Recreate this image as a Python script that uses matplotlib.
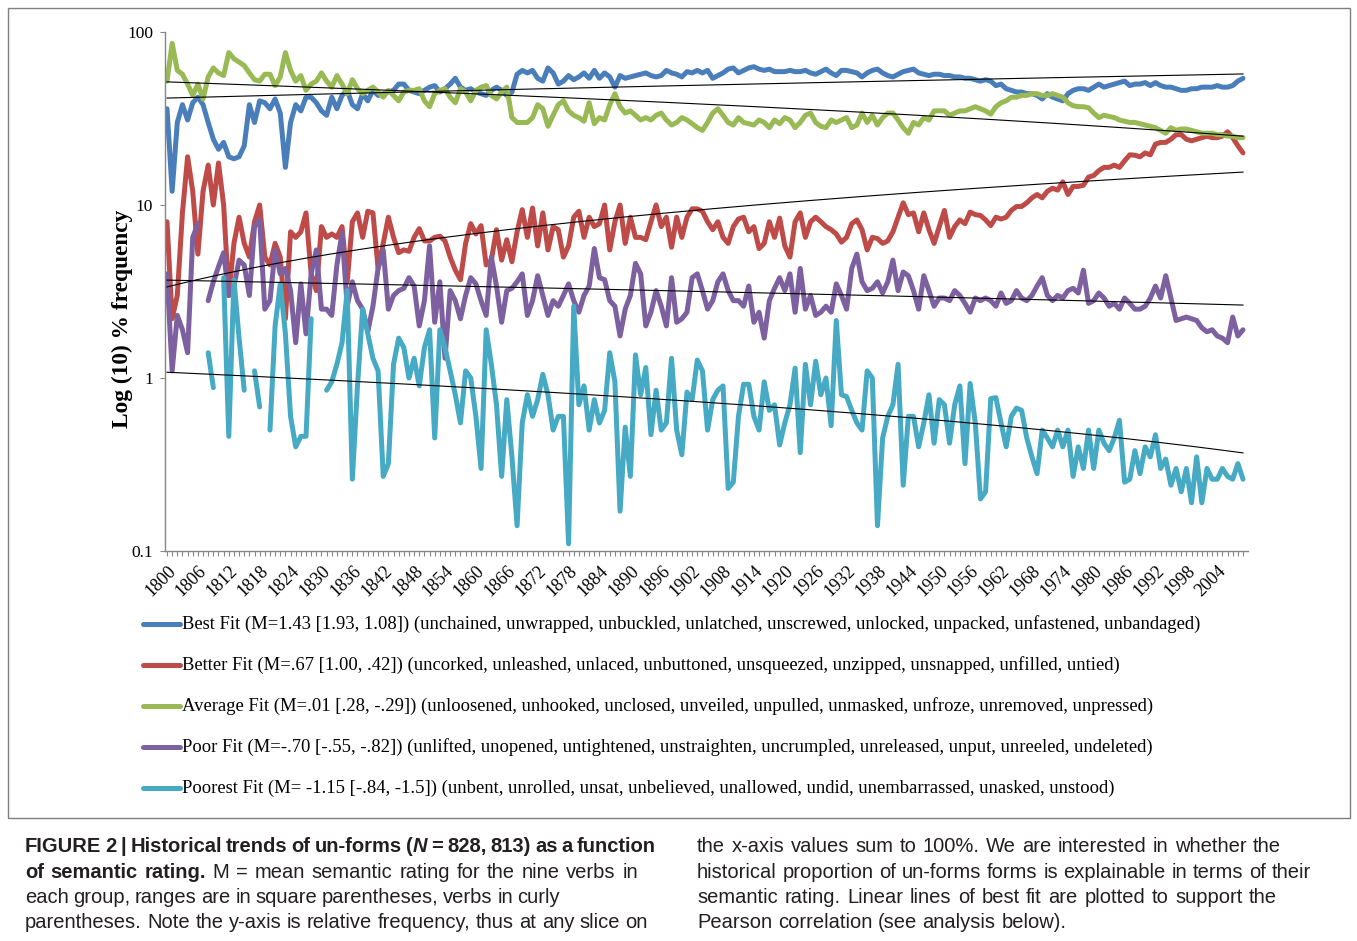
import numpy as np
import matplotlib
matplotlib.use('Agg')
import matplotlib.pyplot as plt
from matplotlib.lines import Line2D
from matplotlib.patches import Rectangle

nan = np.nan
years = np.arange(1800, 2010)

best_fit = [
    36, 12, 30, 38, 31, 39, 42, 38, 30, 24, 21, 23, 19, 18.5, 19, 22, 38, 30, 40, 39,
    36, 41, 34, 16.5, 30, 38, 35, 42, 42, 39, 35, 33, 42, 36, 43, 46, 38, 36, 44, 40,
    46, 43, 44, 45, 46, 50, 50, 46, 45, 44, 46, 48, 49, 45, 47, 50, 54, 48, 46, 47,
    45, 44, 43, 46, 48, 46, 43, 45, 57, 60, 58, 60, 54, 52, 62, 58, 50, 52, 56, 53,
    55, 58, 54, 60, 54, 58, 55, 48, 56, 54, 55, 56, 57, 58, 56, 55, 56, 60, 58, 57,
    55, 59, 58, 60, 58, 60, 54, 56, 58, 61, 62, 58, 60, 62, 63, 61, 60, 61, 59, 59,
    59, 60, 59, 59, 60, 58, 57, 59, 61, 58, 56, 60, 60, 59, 58, 55, 58, 60, 61, 58,
    56, 55, 57, 59, 60, 61, 58, 57, 56, 57, 57, 56, 56, 55, 55, 54, 54, 53, 52, 53,
    52, 49, 50, 47, 46, 45, 45, 44, 44, 43, 41, 44, 42, 41, 40, 44, 46, 47, 47, 46,
    48, 50, 48, 49, 50, 51, 52, 49, 50, 50, 51, 49, 51, 49, 48, 48, 47, 46, 46, 47,
    47, 48, 48, 48, 49, 48, 48, 49, 52, 54]

better_fit = [
    8, 2.2, 3, 9, 19, 12, 5.2, 12, 17, 10, 17.5, 10, 3, 6, 8.5, 6, 5, 8, 10, 5,
    4.5, 6, 5, 2.2, 7, 6.5, 7, 9, 4, 3.2, 7.5, 6.5, 6.8, 6.5, 7.5, 3.6, 8, 9, 6.5, 9.2,
    9, 4.3, 6, 8.5, 6.5, 5.3, 5.5, 5.4, 6.5, 7.3, 6.2, 6.2, 6.5, 6.6, 6.2, 5, 4.2, 3.7, 6, 7.8,
    6.8, 7.6, 4.5, 4.8, 7.2, 4.8, 6.3, 4.7, 7, 9.4, 6.5, 9.6, 5.8, 9, 5.5, 7.5, 7.2, 5, 5.8, 8.5,
    9.2, 6.5, 8.5, 7.5, 7.8, 10, 5.5, 8, 10, 6, 8.5, 6.5, 6.5, 6.3, 8, 10, 7.5, 8.5, 5.7, 8.5,
    6.5, 8.5, 9.5, 9.5, 9.2, 8, 7.2, 8, 6.5, 6, 7.5, 8.3, 8.5, 7, 7.5, 5.6, 6, 8, 6.5, 8.4,
    5.8, 5, 8, 9, 6.5, 8, 8.5, 8, 7.5, 7.2, 6.8, 6.1, 6.5, 7.8, 8.2, 7.2, 5.5, 6.5, 6.4, 6,
    6.2, 7, 8.5, 10.3, 8.8, 9, 7, 9, 7.2, 6, 7.5, 9.3, 6.5, 7.5, 8.2, 7.8, 9.1, 8.8, 8.7, 8.2,
    7.6, 8.5, 8.3, 8.5, 9.3, 9.8, 9.8, 10.3, 11, 11.5, 11, 12, 12.5, 12.2, 13.6, 11.5, 12.8, 12.8, 13, 14.5,
    14.8, 15.8, 16.5, 16.5, 17, 16.5, 18, 19.5, 19.4, 19, 20, 19.5, 22.5, 23, 23, 24, 25.5, 25.5, 24, 23.5,
    24, 24.5, 25, 24.5, 24.5, 25, 26.5, 24.5, 22, 20]

average_fit = [
    52, 86, 60, 57, 50, 43, 50, 41, 55, 62, 58, 56, 76, 70, 67, 64, 58, 53, 52, 57,
    57, 49, 55, 76, 60, 52, 56, 46, 50, 52, 58, 52, 48, 56, 50, 44, 53, 47, 44, 46,
    48, 45, 42, 46, 43, 40, 45, 46, 46, 47, 40, 37, 44, 46, 47, 42, 39, 47, 45, 40,
    46, 48, 49, 43, 41, 45, 48, 32, 30, 30, 30, 32, 38, 36, 28.5, 33, 38, 40, 35, 33,
    32, 30.5, 39, 29.5, 32, 31, 38, 44, 37, 34, 35, 33, 31, 32, 31, 33, 34, 31, 29, 30,
    32, 31, 29.5, 28, 27, 30, 34, 36, 33, 30, 29, 32, 30, 29.5, 29, 31, 30, 28, 31, 29.5,
    32, 31, 28, 30, 33, 34, 30, 28.5, 28, 31, 30, 31, 32, 28, 29, 34, 30, 33, 29, 32,
    34, 34, 31, 28, 26, 30, 29, 32, 31, 35, 35, 35, 33, 34, 35, 35, 36, 37, 36, 35,
    33.5, 37, 39, 40, 42, 42, 43, 43, 44, 44, 43, 43, 44, 43, 42, 39, 37.5, 37, 37, 36.5,
    34, 32, 33, 32.5, 32, 31, 30.5, 30, 30, 29.5, 29, 28.5, 28, 27, 26, 28, 27, 27.5, 27.5, 27,
    26.5, 26, 26, 26, 25.5, 25.5, 25, 25, 24.5, 24.5]

poor_fit = [
    4, 1.1, 2.3, 1.9, 1.4, 6.5, 7.8, nan, 2.8, 3.6, 4.4, 5.3, 3, 3.4, 4.8, 4.5, 3, 7.5, 8.2, 2.5,
    2.8, 5.5, 4, 4.3, 3.2, 1.6, 3.5, 1.8, 4, 5.5, 2.5, 2.5, 2.3, 4.5, 6.9, 2.6, 3.6, 2.8, 2.5, 1.85,
    2.6, 4.3, 5.5, 2.5, 3, 3.2, 3.3, 3.8, 3.4, 2, 2.8, 5.8, 2.1, 3.6, 1.3, 3.2, 2.8, 2.2, 3, 3.8,
    3.5, 2.8, 2.3, 5, 3.4, 2.1, 3.2, 3.3, 3.6, 4, 2.3, 2.8, 3.9, 3, 2.3, 2.8, 2.6, 3, 3.5, 2.8,
    2.4, 3, 3.4, 5.6, 3.8, 3.7, 2.8, 2.6, 1.75, 2.5, 3, 4.6, 4, 2, 2.4, 3.2, 2.6, 2, 3.8, 2.1,
    2.2, 2.4, 3.8, 4, 3.2, 2.5, 2.8, 3.6, 4, 3.2, 2.8, 2.8, 2.6, 3.4, 2.1, 2.4, 1.7, 2.8, 3.3, 3.8,
    3.2, 4, 2.4, 4.3, 2.5, 3, 2.3, 2.4, 2.6, 2.4, 3.5, 3, 2.5, 4.3, 5.2, 3.6, 3.2, 3.3, 3.6, 3.1,
    3.6, 4.8, 3.2, 4.1, 3.9, 3.2, 2.5, 3.9, 3.2, 2.6, 2.9, 2.9, 2.8, 3.2, 3, 2.7, 2.4, 2.9, 2.8, 2.9,
    2.8, 2.6, 3.1, 2.7, 2.8, 3.2, 2.9, 2.8, 3, 3.4, 3.8, 3, 2.8, 3, 2.9, 3.2, 3.3, 3.1, 4.2, 2.7,
    2.8, 3.1, 2.9, 2.6, 2.7, 2.5, 2.9, 2.7, 2.5, 2.5, 2.6, 2.9, 3.4, 2.9, 3.9, 2.9, 2.15, 2.2, 2.25, 2.2,
    2.15, 1.95, 1.85, 1.9, 1.75, 1.7, 1.6, 2.25, 1.75, 1.9]

poorest_fit = [
    nan, nan, nan, nan, nan, nan, nan, nan, 1.4, 0.88, nan, 3.8, 0.46, 3.7, 1.7, 0.85, nan, 1.1, 0.68, nan,
    0.5, 2.0, 3.5, 1.8, 0.6, 0.4, 0.46, 0.46, 2.2, nan, nan, 0.85, 0.95, 1.2, 1.6, 3.2, 0.26, 0.9, 2.5, 1.8,
    1.3, 1.1, 0.27, 0.32, 1.2, 1.7, 1.5, 1.0, 1.3, 0.9, 1.5, 1.9, 0.45, 1.9, 1.5, 1.1, 0.8, 0.55, 1.1, 1.0,
    0.6, 0.3, 1.9, 1.2, 0.7, 0.27, 0.75, 0.35, 0.14, 0.55, 0.8, 0.6, 0.75, 1.05, 0.8, 0.5, 0.6, 0.6, 0.11, 2.6,
    0.7, 0.9, 0.5, 0.75, 0.55, 0.65, 1.4, 0.95, 0.17, 0.52, 0.27, 1.36, 0.8, 1.15, 0.47, 0.85, 0.5, 0.55, 1.3, 0.5,
    0.36, 0.83, 0.75, 1.27, 1.1, 0.5, 0.75, 0.85, 0.9, 0.23, 0.25, 0.6, 0.92, 0.92, 0.6, 0.5, 0.95, 0.65, 0.7, 0.41,
    0.55, 0.7, 1.14, 0.37, 1.2, 0.7, 1.25, 0.8, 1.0, 0.53, 2.15, 0.8, 0.78, 0.65, 0.55, 0.5, 1.1, 1.0, 0.14, 0.45,
    0.6, 0.7, 1.2, 0.24, 0.6, 0.6, 0.4, 0.55, 0.8, 0.42, 0.75, 0.7, 0.42, 0.7, 0.9, 0.32, 0.93, 0.55, 0.2, 0.22,
    0.76, 0.77, 0.55, 0.4, 0.6, 0.67, 0.65, 0.45, 0.35, 0.28, 0.5, 0.45, 0.4, 0.5, 0.4, 0.5, 0.27, 0.4, 0.3, 0.5,
    0.3, 0.5, 0.42, 0.38, 0.45, 0.57, 0.25, 0.26, 0.38, 0.28, 0.4, 0.35, 0.47, 0.3, 0.34, 0.24, 0.3, 0.22, 0.3, 0.19,
    0.35, 0.19, 0.3, 0.26, 0.26, 0.3, 0.27, 0.26, 0.32, 0.26]

# linear best-fit lines, value at 1800 and at 2009 (same order as series)
trend_1800 = [41.5, 3.36, 51.5, 3.68, 1.08]
trend_2009 = [57.2, 15.5, 25.0, 2.64, 0.369]

labels = [
    'Best Fit (M=1.43 [1.93, 1.08]) (unchained, unwrapped, unbuckled, unlatched, unscrewed, unlocked, unpacked, unfastened, unbandaged)',
    'Better Fit (M=.67 [1.00, .42]) (uncorked, unleashed, unlaced, unbuttoned, unsqueezed, unzipped, unsnapped, unfilled, untied)',
    'Average Fit (M=.01 [.28, -.29]) (unloosened, unhooked, unclosed, unveiled, unpulled, unmasked, unfroze, unremoved, unpressed)',
    'Poor Fit (M=-.70 [-.55, -.82]) (unlifted, unopened, untightened, unstraighten, uncrumpled, unreleased, unput, unreeled, undeleted)',
    'Poorest Fit (M= -1.15 [-.84, -1.5]) (unbent, unrolled, unsat, unbelieved, unallowed, undid, unembarrassed, unasked, unstood)',
]
colors = ['#4a7ebb', '#be4b48', '#98b954', '#7d60a0', '#46aac5']
series = [best_fit, better_fit, average_fit, poor_fit, poorest_fit]

W, H = 1357, 941
def fx(px):
    return px / W
def fy(py):
    return 1 - py / H

plt.rcParams['font.family'] = 'Liberation Serif'
fig = plt.figure(figsize=(W / 100, H / 100), dpi=100)
fig.patch.set_facecolor('white')

ax = fig.add_axes([fx(165), fy(551), fx(1248) - fx(165), fy(32) - fy(551)])

# Excel draws series in order, so the last one lands on top
for k in range(5):
    ax.plot(years, series[k], color=colors[k], lw=3.6, solid_joinstyle='round',
            solid_capstyle='round', zorder=2 + k * 0.1)

xx = np.arange(1800, 2010)
for k in range(5):
    slope = (trend_2009[k] - trend_1800[k]) / (2009 - 1800)
    ax.plot(xx, trend_1800[k] + slope * (xx - 1800), color='black', lw=0.8, zorder=5)

ax.set_yscale('log')
ax.set_ylim(0.1, 100)
ax.set_xlim(1800 - 2 / 5.148, 2009 + 5 / 5.148)
ax.set_yticks([0.1, 1, 10, 100])
ax.set_yticklabels(['0.1', '1', '10', '100'])
ax.yaxis.set_minor_locator(matplotlib.ticker.NullLocator())
ax.set_xticks(np.arange(1800, 2005, 6))
ax.set_xticklabels([str(y) for y in range(1800, 2005, 6)], rotation=45,
                   ha='right', va='top', rotation_mode='anchor')
ax.set_xticks(years, minor=True)
ax.tick_params(axis='both', which='both', direction='out', length=3.5, width=0.8,
               color='#868686', labelsize=12.5, pad=5)
ax.tick_params(axis='x', which='major', pad=4.5, labelsize=13)
for s in ['top', 'right']:
    ax.spines[s].set_visible(False)
for s in ['left', 'bottom']:
    ax.spines[s].set_color('#868686')
    ax.spines[s].set_linewidth(1.0)

fig.text(fx(122), fy(319), 'Log (10) % frequency', rotation=90, ha='center', va='center',
         fontsize=16.8, fontweight='bold')

# legend rows under the axis
for k in range(5):
    ly = 624 + 41 * k
    fig.add_artist(Line2D([fx(143), fx(180)], [fy(ly), fy(ly)], color=colors[k], lw=3.6,
                          solid_capstyle='round'))
    fig.text(fx(182), fy(ly), labels[k], ha='left', va='center', fontsize=13.45)

# outer frame
fig.add_artist(Rectangle((fx(8), fy(818)), fx(1350) - fx(8), fy(8) - fy(818), fill=False,
                         edgecolor='#7f7f7f', lw=1.0, transform=fig.transFigure))

# caption, set word by word so each line spans its measured width
fig.canvas.draw()
renderer = fig.canvas.get_renderer()
B, N, I = 'bold', 'normal', 'italic'
SANS = 'Liberation Sans'

def text_width(s, size, weight=N):
    t = fig.text(0, 0, s, fontsize=size, fontweight=weight, family=SANS)
    w = t.get_window_extent(renderer).width
    t.remove()
    return w

# font size chosen so the longest body line fills its column
ref_line = 'historical proportion of un-forms forms is explainable in terms of their'
cap_size = 10 * (1311 - 697) / text_width(ref_line, 10)
space_w = text_width('a a', cap_size) - text_width('aa', cap_size)

def plain(s, w=N):
    return [[(t, w, N)] for t in s.split()]

def caption_line(x0, x1, y, words, size=cap_size):
    arts = []
    for word in words:
        runs = [fig.text(0, fy(y), t, fontsize=size, fontweight=w, fontstyle=st,
                         family=SANS, va='baseline', color='#231f20')
                for t, w, st in word]
        arts.append(runs)
    widths = [[r.get_window_extent(renderer).width for r in runs] for runs in arts]
    total = sum(sum(w) for w in widths)
    gap = space_w if x1 is None else max((x1 - x0 - total) / (len(arts) - 1), space_w * 0.5)
    x = x0
    for runs, ws in zip(arts, widths):
        for r, w in zip(runs, ws):
            r.set_x(fx(x))
            x += w
        x += gap

line1 = plain('FIGURE 2 | Historical trends of un-forms', B) + \
    [[('(', B, N), ('N', B, I)]] + plain('= 828, 813) as a function', B)
line2 = plain('of semantic rating.', B) + plain('M = mean semantic rating for the nine verbs in')
caption_line(25, 656, 852, line1)
caption_line(25, 638, 878, line2)
caption_line(25, 560, 903, plain('each group, ranges are in square parentheses, verbs in curly'))
caption_line(25, 648, 928, plain('parentheses. Note the y-axis is relative frequency, thus at any slice on'))
caption_line(697, 1281, 852, plain('the x-axis values sum to 100%. We are interested in whether the'))
caption_line(697, 1311, 878, plain('historical proportion of un-forms forms is explainable in terms of their'))
caption_line(697, 1277, 903, plain('semantic rating. Linear lines of best fit are plotted to support the'))
caption_line(697, None, 928, plain('Pearson correlation (see analysis below).'))

fig.savefig('out.png', dpi=100, facecolor='white')
